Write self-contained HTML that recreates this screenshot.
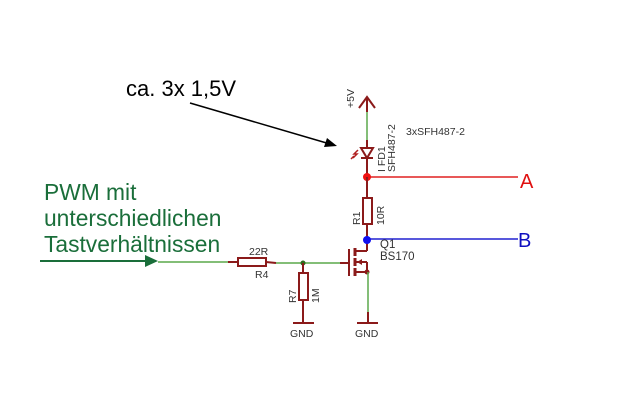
<!DOCTYPE html>
<html><head><meta charset="utf-8"><style>
html,body{margin:0;padding:0;background:#fff;}
svg{display:block;font-family:"Liberation Sans",sans-serif;}
</style></head><body>
<svg width="640" height="402" viewBox="0 0 640 402" xmlns="http://www.w3.org/2000/svg">
<rect width="640" height="402" fill="#fff"/>
<text x="126" y="96" font-size="22" fill="#000">ca. 3x 1,5V</text>
<line x1="190" y1="103" x2="330" y2="144" stroke="#000" stroke-width="1.5"/>
<polygon points="337,146 324,147 327,138" fill="#000"/>
<g fill="#1a6e3a" font-size="22.8">
<text x="44" y="200">PWM mit</text>
<text x="44" y="226">unterschiedlichen</text>
<text x="44" y="252">Tastverhältnissen</text>
</g>
<line x1="40" y1="261" x2="148" y2="261" stroke="#1a6e3a" stroke-width="2"/>
<polygon points="158,261 145,255 145,267" fill="#1a6e3a"/>
<line x1="158" y1="262" x2="228" y2="262" stroke="#5aa84a" stroke-width="1.5"/>
<line x1="276" y1="263" x2="340" y2="263" stroke="#5aa84a" stroke-width="1.5"/>
<line x1="228" y1="262" x2="238" y2="262" stroke="#8b1a1a" stroke-width="2"/>
<line x1="266" y1="262" x2="276" y2="263" stroke="#8b1a1a" stroke-width="2"/>
<line x1="340" y1="263" x2="349" y2="263" stroke="#8b1a1a" stroke-width="2"/>
<rect x="238" y="258" width="28" height="8" fill="#fff" stroke="#8b1a1a" stroke-width="2"/>
<text x="249" y="255" font-size="10.5" fill="#333">22R</text>
<text x="255" y="278" font-size="10.5" fill="#333">R4</text>
<circle cx="303" cy="263" r="2.5" fill="#2e6b1e"/>
<line x1="303" y1="263" x2="303" y2="273" stroke="#8b1a1a" stroke-width="2"/>
<rect x="299" y="273" width="9" height="27" fill="#fff" stroke="#8b1a1a" stroke-width="2"/>
<line x1="303" y1="300" x2="303" y2="323" stroke="#8b1a1a" stroke-width="2"/>
<line x1="293" y1="323" x2="314" y2="323" stroke="#8b1a1a" stroke-width="2"/>
<text x="0" y="0" font-size="10.5" fill="#333" transform="translate(296,303) rotate(-90)">R7</text>
<text x="0" y="0" font-size="10.5" fill="#333" transform="translate(319,303) rotate(-90)">1M</text>
<text x="290" y="337" font-size="10.5" fill="#333">GND</text>
<line x1="367" y1="99" x2="367" y2="142" stroke="#5aa84a" stroke-width="1.5"/>
<polyline points="359,108 367,97 375,108" fill="none" stroke="#8b1a1a" stroke-width="2"/>
<line x1="367" y1="97" x2="367" y2="112" stroke="#8b1a1a" stroke-width="2"/>
<text x="0" y="0" font-size="10.5" fill="#333" transform="translate(354,108) rotate(-90)">+5V</text>
<line x1="367" y1="140" x2="367" y2="177" stroke="#8b1a1a" stroke-width="2"/>
<polygon points="361,148 373,148 367,158" fill="#fff" stroke="#8b1a1a" stroke-width="2"/>
<line x1="361" y1="158" x2="373" y2="158" stroke="#8b1a1a" stroke-width="2"/>
<path d="M358,150 l-4,4 l3,0 l-4,4 M354,156 l-3,3" stroke="#b02020" stroke-width="1.5" fill="none"/>
<text x="0" y="0" font-size="10.5" fill="#333" transform="translate(385,172) rotate(-90)">I FD1</text>
<text x="0" y="0" font-size="10.5" fill="#333" transform="translate(395,172) rotate(-90)">SFH487-2</text>
<text x="406" y="135" font-size="10.5" fill="#333">3xSFH487-2</text>
<line x1="367" y1="177" x2="518" y2="177" stroke="#e02020" stroke-width="1.5"/>
<circle cx="367" cy="177" r="4" fill="#f01010"/>
<text x="520" y="188" font-size="20" fill="#e01010">A</text>
<line x1="367" y1="177" x2="367" y2="198" stroke="#8b1a1a" stroke-width="2"/>
<rect x="363" y="198" width="9" height="26" fill="#fff" stroke="#8b1a1a" stroke-width="2"/>
<line x1="367" y1="224" x2="367" y2="251" stroke="#8b1a1a" stroke-width="2"/>
<text x="0" y="0" font-size="10.5" fill="#333" transform="translate(360,225) rotate(-90)">R1</text>
<text x="0" y="0" font-size="10.5" fill="#333" transform="translate(384,225) rotate(-90)">10R</text>
<line x1="367" y1="239" x2="518" y2="239" stroke="#2020d0" stroke-width="1.5"/>
<circle cx="367" cy="240" r="4" fill="#1010f0"/>
<text x="518" y="247" font-size="20" fill="#1010c0">B</text>
<text x="380" y="248" font-size="11.5" fill="#333">Q1</text>
<text x="380" y="260" font-size="11.5" fill="#333">BS170</text>
<line x1="349" y1="249" x2="349" y2="276" stroke="#8b1a1a" stroke-width="2"/>
<g stroke="#8b1a1a" stroke-width="3">
<line x1="355" y1="248" x2="355" y2="256"/>
<line x1="355" y1="258" x2="355" y2="266"/>
<line x1="355" y1="268" x2="355" y2="276"/>
</g>
<g stroke="#8b1a1a" stroke-width="2">
<line x1="355" y1="251" x2="367" y2="251"/>
<line x1="355" y1="262" x2="367" y2="262"/>
<line x1="355" y1="272" x2="367" y2="272"/>
<line x1="367" y1="262" x2="367" y2="272"/>
</g>
<polygon points="357,262 362,259 362,265" fill="#8b1a1a"/>
<circle cx="367" cy="272" r="2.5" fill="#8b1a1a"/>
<line x1="368" y1="272" x2="368" y2="322" stroke="#5aa84a" stroke-width="1.5"/>
<line x1="368" y1="312" x2="368" y2="323" stroke="#8b1a1a" stroke-width="2"/>
<line x1="357" y1="323" x2="378" y2="323" stroke="#8b1a1a" stroke-width="2"/>
<text x="355" y="337" font-size="10.5" fill="#333">GND</text>
</svg>
</body></html>
